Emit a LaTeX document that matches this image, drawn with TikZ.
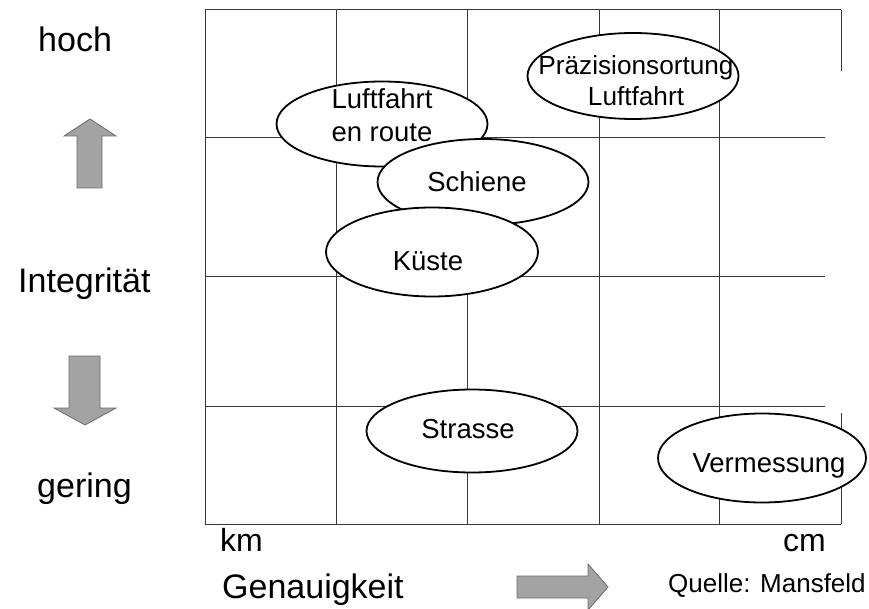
\documentclass[tikz,border=0pt]{standalone}
\usepackage{fontspec}
\setmainfont{Liberation Sans}
\usetikzlibrary{shapes.geometric}
\begin{document}
\begin{tikzpicture}[x=1pt,y=-1pt,
  gridline/.style={draw=black!78, line width=1pt},
  oval/.style={ellipse, draw=black, line width=1.8pt, fill=white, inner sep=0pt},
  lbl/.style={font=\fontsize{27.5}{33}\selectfont, anchor=base, inner sep=0pt},
  axislbl/.style={font=\fontsize{34}{40}\selectfont, inner sep=0pt},
  blockarrow/.style={fill=black!36, draw=black!58, line width=0.8pt, line join=miter}]
\useasboundingbox (0,0) rectangle (869,609);

% grid
\foreach \x in {205,336,467,599,719}
  \draw[gridline] (\x,10) -- (\x,524);
\draw[gridline] (205,10) -- (841,10);
\draw[gridline] (205,524) -- (841,524);
\foreach \y in {138,277,406}
  \draw[gridline] (205,\y) -- (825,\y);
\draw[gridline] (841,10) -- (841,71);
\draw[gridline] (841,413) -- (841,524);

% application areas
\node[oval, minimum width=211pt, minimum height=85pt] (luft) at (382,124) {};
\node[lbl] (luftA) at (382,109) {Luftfahrt};
\node[lbl] (luftB) at (382,142) {en route};

\node[oval, minimum width=211pt, minimum height=86pt] (praez) at (633,76) {};
\node[lbl, font=\fontsize{26.2}{31}\selectfont] (praezA) at (636,75) {Präzisionsortung};
\node[lbl, font=\fontsize{26.2}{31}\selectfont] (praezB) at (636,106) {Luftfahrt};

\node[oval, minimum width=211pt, minimum height=86pt] (schiene) at (483,182) {};
\node[lbl] (schieneT) at (477,192) {Schiene};

\node[oval, minimum width=212pt, minimum height=89pt] (kueste) at (432,252) {};
\node[lbl] (kuesteT) at (428,271) {Küste};

\node[oval, minimum width=211pt, minimum height=83pt] (strasse) at (472,431) {};
\node[lbl] (strasseT) at (468,438) {Strasse};

\node[oval, minimum width=208pt, minimum height=89pt] (verm) at (762,458) {};
\node[lbl] (vermT) at (769,472) {Vermessung};

% axis labels
\node[axislbl, anchor=base west] (hoch) at (38,52) {hoch};
\node[axislbl, anchor=base west] (integ) at (18,293) {Integrität};
\node[axislbl, anchor=base west] (gering) at (37,497) {gering};
\node[axislbl, anchor=base west, font=\fontsize{32}{38}\selectfont] (km) at (220,551) {km};
\node[axislbl, anchor=base east, font=\fontsize{32}{38}\selectfont] (cm) at (826,551) {cm};
\node[axislbl, anchor=base west] (genau) at (222,598) {Genauigkeit};
\node[anchor=base west, inner sep=0pt, font=\fontsize{26}{31}\selectfont] (quelle) at (668,592) {Quelle: Mansfeld};

% block arrows
\draw[blockarrow] (90,119) -- (116,136) -- (102,136) -- (102,188) -- (77,188) -- (77,136) -- (64,136) -- cycle;
\draw[blockarrow] (69,356) -- (100,356) -- (100,408) -- (116,408) -- (85,425) -- (54,408) -- (69,408) -- cycle;
\draw[blockarrow] (517,576) -- (588,576) -- (588,564) -- (608,587) -- (588,610) -- (588,598) -- (517,598) -- cycle;
\end{tikzpicture}
\end{document}
